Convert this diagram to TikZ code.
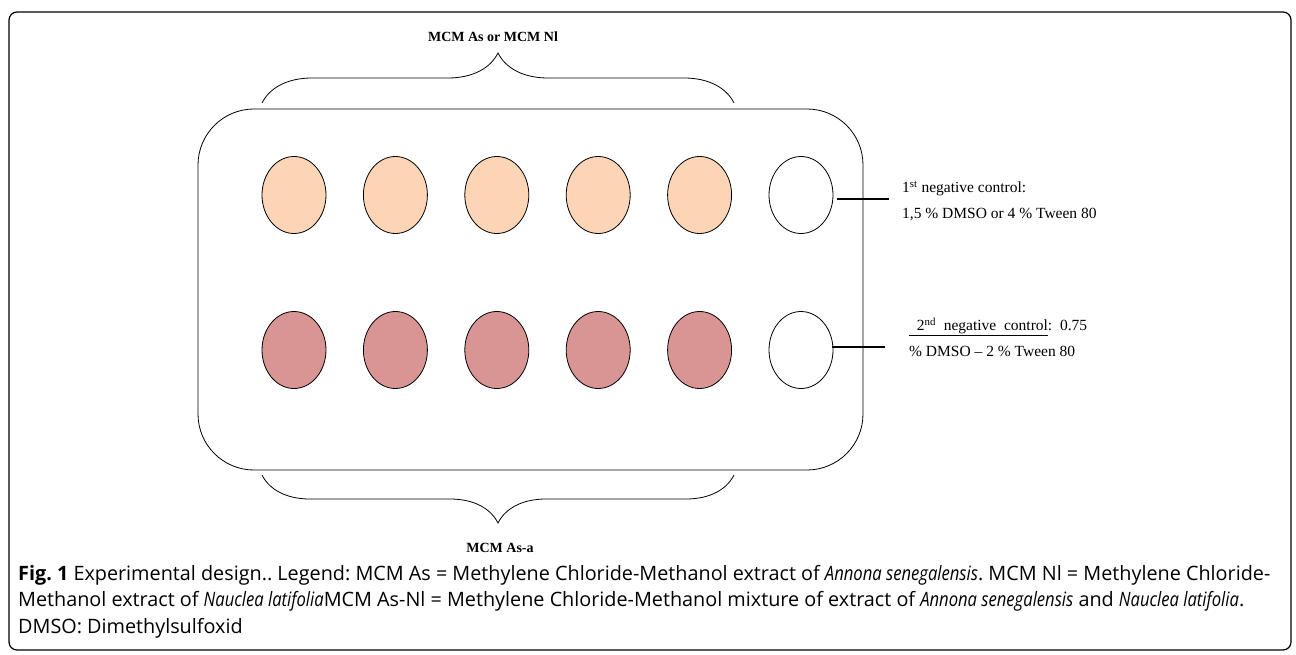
\documentclass[tikz,border=0pt]{standalone}
\usepackage{fontspec}
\setmainfont{Liberation Serif}
\newfontfamily\capfont[ItalicFeatures={FakeStretch=0.84}]{Open Sans}
\usetikzlibrary{positioning,decorations.pathreplacing}

\definecolor{peach}{HTML}{FBD5B5}
\definecolor{rose}{HTML}{D99594}

\tikzset{
    well/.style={draw, line width=0.8pt},
    lbl/.style={font=\fontsize{15.5}{19}\selectfont, anchor=west, align=left, inner sep=0pt},
    grp/.style={font=\bfseries\fontsize{14}{16}\selectfont, inner sep=0pt},
    brc/.style={decorate, decoration={brace, amplitude=#1}, line width=0.8pt},
}

\begin{document}
\frenchspacing
\begin{tikzpicture}[x=1pt, y=1pt, node distance=101.4pt]
    \useasboundingbox (0,0) rectangle (1296,-655);

    % frame and plate
    \draw[line width=1.2pt, rounded corners=8pt] (9,-12) rectangle (1291,-650);
    \draw[line width=0.8pt, rounded corners=56pt] (198,-109) rectangle (863,-470);

    % wells
    \node   (t1) at (294,-195)      {};
    \node   (t2) [right of = t1]    {};
    \node   (t3) [right of = t2]    {};
    \node   (t4) [right of = t3]    {};
    \node   (t5) [right of = t4]    {};
    \node   (t6) [right of = t5]    {};
    \node   (b1) at (294,-350)      {};
    \node   (b2) [right of = b1]    {};
    \node   (b3) [right of = b2]    {};
    \node   (b4) [right of = b3]    {};
    \node   (b5) [right of = b4]    {};
    \node   (b6) [right of = b5]    {};

    \draw[well, fill=peach]   (t1) ellipse (32pt and 38.5pt);
    \draw[well, fill=peach]   (t2) ellipse (32pt and 38.5pt);
    \draw[well, fill=peach]   (t3) ellipse (32pt and 38.5pt);
    \draw[well, fill=peach]   (t4) ellipse (32pt and 38.5pt);
    \draw[well, fill=peach]   (t5) ellipse (32pt and 38.5pt);
    \draw[well, fill=white]   (t6) ellipse (32pt and 38.5pt);
    \draw[well, fill=rose]    (b1) ellipse (32pt and 38.5pt);
    \draw[well, fill=rose]    (b2) ellipse (32pt and 38.5pt);
    \draw[well, fill=rose]    (b3) ellipse (32pt and 38.5pt);
    \draw[well, fill=rose]    (b4) ellipse (32pt and 38.5pt);
    \draw[well, fill=rose]    (b5) ellipse (32pt and 38.5pt);
    \draw[well, fill=white]   (b6) ellipse (32pt and 38.5pt);

    % braces
    \draw[brc=50pt]  (262,-103) -- (734,-103);
    \draw[brc=48pt]  (734,-475) -- (262,-475);
    \node[grp]  (top)  at (493,-37)  {MCM As or MCM Nl};
    \node[grp]  (bot)  at (500,-548) {MCM As-a};

    % controls
    \coordinate (c1) at (889,-199);
    \coordinate (c2) at (885,-347);
    \node[lbl]  (ctl1) at (902,-201)
        {1\textsuperscript{st} negative control:\\[7pt]1,5 \% DMSO or 4 \% Tween 80};
    \node[lbl]  (ctl2) at (909,-337)
        {\underline{\ \ 2\textsuperscript{nd}\ \ negative\ \ control}:\ \ 0.75\\[7pt]\% DMSO -- 2 \% Tween 80};
    \draw[line width=1.6pt]   (t6.east) ++(32pt,-4pt) -- (c1);
    \draw[line width=1.6pt]   (b6.east) ++(27pt,3pt) -- (c2);

    % caption
    \node[anchor=north west, align=left, inner sep=0pt,
          font=\capfont\fontsize{19.8}{26.5}\selectfont] (cap) at (18,-565)
        {\textbf{Fig. 1} Experimental design.. Legend: MCM As = Methylene Chloride-Methanol extract of \textit{Annona senegalensis}. MCM Nl = Methylene Chloride-\\
         Methanol extract of \textit{Nauclea latifolia}MCM As-Nl = Methylene Chloride-Methanol mixture of extract of \textit{Annona senegalensis} and \textit{Nauclea latifolia}.\\
         DMSO: Dimethylsulfoxid};
\end{tikzpicture}
\end{document}
